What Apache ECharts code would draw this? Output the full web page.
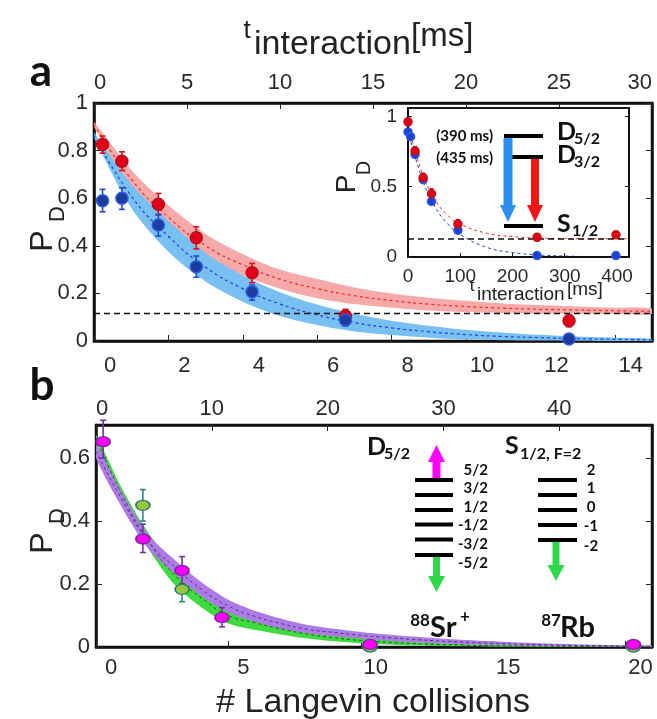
<!DOCTYPE html>
<html>
<head>
<meta charset="utf-8">
<title>P_D decay vs Langevin collisions</title>
<script src="https://cdn.jsdelivr.net/npm/echarts@6/dist/echarts.min.js"></script>
<style>
  html, body { margin: 0; padding: 0; background: #fff; }
  #main { width: 657px; height: 719px; }
</style>
</head>
<body>
<div id="main"></div>
<script>
// ---- panel a: P_D vs # collisions (bottom) / t_interaction ms (top)
var aX      = [0.23, 0.75, 1.73, 2.75, 4.25, 6.76, 12.77];
var aRedY   = [0.826, 0.755, 0.575, 0.434, 0.287, 0.105, 0.085];
var aRedLo  = [0.789, 0.716, 0.530, 0.387, 0.245, 0.077, 0.060];
var aRedHi  = [0.861, 0.795, 0.620, 0.480, 0.326, 0.133, 0.110];
var aBlueY  = [0.589, 0.600, 0.487, 0.312, 0.207, 0.088, 0.008];
var aBlueLo = [0.543, 0.553, 0.441, 0.268, 0.172, 0.063, 0.000];
var aBlueHi = [0.637, 0.644, 0.532, 0.357, 0.235, 0.109, 0.016];
var aPlateau = 0.116;

// fit bands (collision units 0..15)
var aFitX    = [0, 1, 2, 3, 4, 5, 6, 7, 8, 9, 10, 11, 12, 13, 14, 15];
var aRedFit  = [0.91, 0.68, 0.52, 0.40, 0.32, 0.26, 0.22, 0.19, 0.17, 0.155, 0.145, 0.138, 0.133, 0.13, 0.127, 0.125];
var aRedUp   = [0.92, 0.72, 0.57, 0.45, 0.365, 0.30, 0.26, 0.225, 0.20, 0.182, 0.169, 0.158, 0.151, 0.145, 0.14, 0.137];
var aRedDn   = [0.90, 0.64, 0.47, 0.35, 0.275, 0.22, 0.18, 0.155, 0.14, 0.128, 0.121, 0.118, 0.115, 0.115, 0.114, 0.113];
var aBlueFit = [0.865, 0.61, 0.44, 0.31, 0.22, 0.155, 0.11, 0.077, 0.055, 0.039, 0.027, 0.019, 0.014, 0.010, 0.007, 0.005];
var aBlueUp  = [0.875, 0.66, 0.505, 0.37, 0.275, 0.205, 0.153, 0.114, 0.085, 0.064, 0.047, 0.035, 0.026, 0.019, 0.014, 0.010];
var aBlueDn  = [0.855, 0.56, 0.375, 0.25, 0.165, 0.105, 0.067, 0.040, 0.025, 0.014, 0.007, 0.003, 0.002, 0.001, 0.000, 0.000];

// ---- inset: P_D vs t_interaction (ms)
var inRedX  = [0, 13.5, 29, 45, 95.5, 247, 398];
var inRedY  = [0.962, 0.754, 0.565, 0.45, 0.234, 0.14, 0.158];
var inRedLo = [0.935, 0.725, 0.535, 0.415, 0.205, 0.125, 0.14];
var inRedHi = [0.985, 0.785, 0.595, 0.485, 0.265, 0.155, 0.175];
var inBlueX = [0, 5, 13.5, 29, 45, 95.5, 247, 398];
var inBlueY = [0.89, 0.856, 0.73, 0.55, 0.395, 0.19, 0.01, 0.01];
var inPlateau = 0.128;
var inFitX    = [0, 25, 50, 75, 100, 150, 200, 250, 300, 350, 400, 423];
var inRedFit  = [0.95, 0.62, 0.42, 0.30, 0.235, 0.17, 0.145, 0.135, 0.132, 0.13, 0.13, 0.13];
var inRedUp   = [0.96, 0.64, 0.445, 0.325, 0.255, 0.19, 0.16, 0.148, 0.142, 0.14, 0.139, 0.139];
var inRedDn   = [0.94, 0.60, 0.40, 0.28, 0.215, 0.152, 0.132, 0.124, 0.122, 0.121, 0.121, 0.121];
var inBlueFit = [0.90, 0.58, 0.37, 0.24, 0.16, 0.07, 0.032, 0.015, 0.007, 0.003, 0.002, 0.001];
var inBlueUp  = [0.91, 0.60, 0.395, 0.265, 0.183, 0.09, 0.046, 0.024, 0.013, 0.007, 0.005, 0.004];
var inBlueDn  = [0.89, 0.56, 0.345, 0.215, 0.138, 0.052, 0.02, 0.007, 0.002, 0, 0, 0];

// ---- panel b: P_D vs # Langevin collisions
var bMagX  = [0.27, 1.77, 3.25, 4.76, 10.35, 20.3];
var bMagY  = [0.652, 0.343, 0.243, 0.094, 0.008, 0.008];
var bMagLo = [0.60, 0.30, 0.20, 0.064, 0.0, 0.0];
var bMagHi = [0.72, 0.39, 0.287, 0.125, 0.014, 0.014];
var bGrnX  = [1.77, 3.25, 10.35, 20.3];
var bGrnY  = [0.45, 0.183, 0.0, 0.0];
var bGrnLo = [0.40, 0.144, 0.0, 0.0];
var bGrnHi = [0.50, 0.20, 0.006, 0.006];
var bFitX   = [0, 1, 2, 3, 4, 5, 6, 7, 8, 9, 10, 11, 12, 13, 14, 15, 16, 17, 18, 19, 20, 21];
var bGrnUp  = [0.675, 0.50, 0.36, 0.255, 0.185, 0.13, 0.10, 0.075, 0.055, 0.04, 0.03, 0.022, 0.016, 0.012, 0.009, 0.007, 0.005, 0.004, 0.003, 0.002, 0.002, 0.001];
var bGrnDn  = [0.655, 0.46, 0.31, 0.195, 0.125, 0.075, 0.055, 0.04, 0.027, 0.018, 0.012, 0.008, 0.005, 0.003, 0.002, 0.001, 0.001, 0, 0, 0, 0, 0];
var bGrnFit = [0.665, 0.48, 0.335, 0.225, 0.155, 0.10, 0.077, 0.057, 0.041, 0.029, 0.021, 0.015, 0.011, 0.008, 0.006, 0.004, 0.003, 0.002, 0.0015, 0.001, 0.001, 0.0005];
var bPurUp  = [0.645, 0.49, 0.355, 0.275, 0.205, 0.15, 0.115, 0.09, 0.07, 0.058, 0.048, 0.04, 0.033, 0.027, 0.022, 0.018, 0.014, 0.011, 0.009, 0.007, 0.005, 0.004];
var bPurDn  = [0.60, 0.44, 0.31, 0.23, 0.16, 0.11, 0.08, 0.058, 0.043, 0.034, 0.027, 0.02, 0.015, 0.011, 0.008, 0.006, 0.004, 0.003, 0.002, 0.001, 0.001, 0];
var bPurFit = [0.622, 0.465, 0.332, 0.252, 0.182, 0.13, 0.097, 0.074, 0.056, 0.046, 0.037, 0.03, 0.024, 0.019, 0.015, 0.012, 0.009, 0.007, 0.0055, 0.004, 0.003, 0.002];

var FONT = "'Liberation Sans', Arial, sans-serif";
var BOLD = "Lato, 'Open Sans', sans-serif";
var LABEL = '#2a2a2a';

function pairs(xs, ys) { return xs.map(function (x, i) { return [x, ys[i]]; }); }

// shaded confidence band: one closed polygon through the upper and lower edges
function band(xs, lo, hi, color, xi, yi) {
  return {
    type: 'custom', xAxisIndex: xi, yAxisIndex: yi, z: 2, silent: true,
    data: xs.map(function (x, i) { return [x, lo[i], hi[i]]; }),
    encode: { x: 0, y: [1, 2] },
    renderItem: function (params, api) {
      if (params.dataIndex !== 0) return;
      var up = [], dn = [];
      for (var i = 0; i < xs.length; i++) {
        up.push(api.coord([xs[i], hi[i]]));
        dn.unshift(api.coord([xs[i], lo[i]]));
      }
      var cs = params.coordSys;
      return {
        type: 'polygon', shape: { points: up.concat(dn), smooth: 0.3 }, style: { fill: color },
        clipPath: { type: 'rect', shape: { x: cs.x, y: cs.y, width: cs.width, height: cs.height } }
      };
    }
  };
}

function fitLine(xs, ys, color, xi, yi, w) {
  return { type: 'line', xAxisIndex: xi, yAxisIndex: yi, data: pairs(xs, ys), smooth: true,
    symbol: 'none', lineStyle: { color: color, width: w || 1.2, type: [3, 3] }, silent: true, z: 3 };
}

function errBars(xs, lo, hi, color, xi, yi, cap) {
  return {
    type: 'custom', xAxisIndex: xi, yAxisIndex: yi, z: 4, silent: true,
    data: xs.map(function (x, i) { return [x, lo[i], hi[i]]; }),
    encode: { x: 0, y: [1, 2] },
    renderItem: function (params, api) {
      var a = api.coord([api.value(0), api.value(1)]);
      var b = api.coord([api.value(0), api.value(2)]);
      var st = { stroke: color, lineWidth: 1.6 };
      return { type: 'group', children: [
        { type: 'line', shape: { x1: a[0], y1: a[1], x2: b[0], y2: b[1] }, style: st },
        { type: 'line', shape: { x1: a[0] - cap, y1: a[1], x2: a[0] + cap, y2: a[1] }, style: st },
        { type: 'line', shape: { x1: b[0] - cap, y1: b[1], x2: b[0] + cap, y2: b[1] }, style: st }
      ] };
    }
  };
}

function dots(xs, ys, fill, border, size, xi, yi) {
  return { type: 'scatter', xAxisIndex: xi, yAxisIndex: yi, data: pairs(xs, ys), symbol: 'circle',
    symbolSize: size, clip: false, z: 5, silent: true,
    itemStyle: { color: fill, borderColor: border, borderWidth: 1.5, opacity: 1 } };
}

function hline(v, xmin, xmax, xi, yi) {
  return { type: 'line', xAxisIndex: xi, yAxisIndex: yi, data: [[xmin, v], [xmax, v]], symbol: 'none',
    lineStyle: { color: '#111', width: 1.5, type: [6, 4] }, silent: true, z: 3 };
}

function axisBase(extra) {
  var o = {
    type: 'value', splitLine: { show: false },
    axisLine: { show: true, onZero: false, lineStyle: { color: '#111', width: 2.5 } },
    axisTick: { show: true, inside: true, length: 6, lineStyle: { color: '#222', width: 1 } },
    axisLabel: { color: LABEL, fontFamily: FONT, fontSize: 22 }
  };
  for (var k in extra) {
    if (typeof extra[k] === 'object' && !Array.isArray(extra[k]) && o[k]) {
      for (var j in extra[k]) o[k][j] = extra[k][j];
    } else o[k] = extra[k];
  }
  return o;
}

function t(str, x, y, size, opts) {
  opts = opts || {};
  return { type: 'text', x: x, y: y, rotation: opts.rot || 0, z: 100,
    style: { text: str, fontSize: size, fontFamily: opts.bold ? BOLD : FONT,
      fontWeight: opts.bold ? 'bold' : 'normal', fill: opts.fill || '#222',
      align: opts.align || 'center', verticalAlign: 'middle' } };
}
function bar(x1, x2, y, w) {
  return { type: 'line', z: 100, shape: { x1: x1, y1: y, x2: x2, y2: y }, style: { stroke: '#000', lineWidth: w || 4 } };
}
function arrow(cx, y0, y1, shaftW, headW, headL, color) {
  // y0: tail, y1: tip
  var dir = y1 > y0 ? 1 : -1;
  var yh = y1 - dir * headL;
  return [
    { type: 'rect', z: 100, shape: { x: cx - shaftW / 2, y: Math.min(y0, yh), width: shaftW, height: Math.abs(yh - y0) }, style: { fill: color } },
    { type: 'polygon', z: 100, shape: { points: [[cx - headW / 2, yh], [cx + headW / 2, yh], [cx, y1]] }, style: { fill: color } }
  ];
}

var K = '#111';
var graphics = [
  // title and panel letters
  t('t', 247, 31, 26), t('interaction', 254, 45, 34, { align: 'left' }), t('[ms]', 411, 37, 33, { align: 'left' }),
  t('a', 41, 72, 44, { bold: true, fill: K }),
  t('b', 42, 386, 44, { bold: true, fill: K }),
  // y titles
  t('P', 43, 241, 32, { rot: Math.PI / 2 }), t('D', 58, 214, 22, { rot: Math.PI / 2 }),
  t('P', 43, 543, 32, { rot: Math.PI / 2 }), t('D', 58, 516, 22, { rot: Math.PI / 2 }),
  t('P', 347, 184, 28, { rot: Math.PI / 2 }), t('D', 364, 168, 20, { rot: Math.PI / 2 }),
  // inset x title
  t('t', 472, 286, 17), t('interaction', 477, 295, 19, { align: 'left' }), t('[ms]', 567, 290, 19, { align: 'left' }),
  // x title b
  t('# Langevin collisions', 373, 703, 34),
  // inset level scheme
  bar(504, 543, 136), bar(504, 543, 157), bar(504, 543, 226),
  t('(390 ms)', 493, 136, 15, { bold: true, align: 'right', fill: K }),
  t('(435 ms)', 493, 158, 15, { bold: true, align: 'right', fill: K }),
  t('D', 557, 132, 25, { bold: true, align: 'left', fill: K }), t('5/2', 574, 139, 16, { bold: true, align: 'left', fill: K }),
  t('D', 557, 155, 25, { bold: true, align: 'left', fill: K }), t('3/2', 574, 162, 16, { bold: true, align: 'left', fill: K }),
  t('S', 557, 224, 25, { bold: true, align: 'left', fill: K }), t('1/2', 572, 231, 16, { bold: true, align: 'left', fill: K }),
  // panel b level scheme
  t('D', 367, 447, 25, { bold: true, align: 'left', fill: K }), t('5/2', 384, 454, 16, { bold: true, align: 'left', fill: K }),
  t('S', 505, 446, 25, { bold: true, align: 'left', fill: K }), t('1/2, F=2', 520, 454, 16, { bold: true, align: 'left', fill: K }),
  bar(415, 453, 480), bar(415, 453, 495), bar(415, 453, 510), bar(415, 453, 524.5), bar(415, 453, 539.5), bar(415, 453, 555),
  bar(538, 577, 480), bar(538, 577, 495), bar(538, 577, 510), bar(538, 577, 525), bar(538, 577, 540),
  t('5/2', 488, 470, 15, { bold: true, align: 'right', fill: K }),
  t('3/2', 488, 488, 15, { bold: true, align: 'right', fill: K }),
  t('1/2', 488, 507, 15, { bold: true, align: 'right', fill: K }),
  t('-1/2', 488, 525, 15, { bold: true, align: 'right', fill: K }),
  t('-3/2', 488, 544, 15, { bold: true, align: 'right', fill: K }),
  t('-5/2', 488, 563, 15, { bold: true, align: 'right', fill: K }),
  t('2', 591, 470, 15, { bold: true, fill: K }),
  t('1', 591, 488, 15, { bold: true, fill: K }),
  t('0', 591, 507, 15, { bold: true, fill: K }),
  t('-1', 591, 526, 15, { bold: true, fill: K }),
  t('-2', 591, 546, 15, { bold: true, fill: K }),
  t('88', 420, 621, 17, { bold: true, fill: K }), t('Sr', 430, 628, 29, { bold: true, align: 'left', fill: K }),
  t('+', 465, 617, 17, { bold: true, fill: K }),
  t('87', 551, 621, 17, { bold: true, fill: K }), t('Rb', 560, 628, 29, { bold: true, align: 'left', fill: K })
]
  .concat(arrow(508, 138, 222, 9, 16, 17, '#2a8ff0'))
  .concat(arrow(535, 159, 222, 8, 16, 17, '#f41414'))
  .concat(arrow(436.5, 478, 445, 8, 17, 17, '#ff00ff'))
  .concat(arrow(436.5, 557, 592, 7, 17, 16, '#2fd84a'))
  .concat(arrow(556, 542, 581, 7, 17, 16, '#2fd84a'));

var series = [
  band(aFitX, aRedDn, aRedUp, '#f6a9a9', 0, 0),
  band(aFitX, aBlueDn, aBlueUp, '#79c0f2', 0, 0),
  fitLine(aFitX, aRedFit, '#f02828', 0, 0),
  fitLine(aFitX, aBlueFit, '#1f3fe0', 0, 0),
  hline(aPlateau, 0, 15, 0, 0),
  errBars(aX, aRedLo, aRedHi, '#e0101a', 0, 0, 3),
  errBars(aX, aBlueLo, aBlueHi, '#2048d8', 0, 0, 3),
  dots(aX, aRedY, '#e5001a', '#b0101a', 12, 0, 0),
  dots(aX, aBlueY, '#1d3c9c', '#2f5be0', 12, 0, 0),

  band(inFitX, inRedDn, inRedUp, '#f8b4b4', 2, 2),
  band(inFitX, inBlueDn, inBlueUp, '#8ccaf4', 2, 2),
  fitLine(inFitX, inRedFit, '#f02828', 2, 2, 1),
  fitLine(inFitX, inBlueFit, '#1f3fe0', 2, 2, 1),
  hline(inPlateau, 0, 423, 2, 2),
  errBars(inRedX, inRedLo, inRedHi, '#e0101a', 2, 2, 2),
  dots(inBlueX, inBlueY, '#1f3fd0', '#2f5be0', 8, 2, 2),
  dots(inRedX, inRedY, '#e5001a', '#c0101a', 8, 2, 2),

  band(bFitX, bGrnDn, bGrnUp, '#3ddb3d', 3, 4),
  band(bFitX, bPurDn, bPurUp, '#ad7ae6', 3, 4),
  fitLine(bFitX, bGrnFit, '#2d5a2d', 3, 4, 1),
  fitLine(bFitX, bPurFit, '#4a3a7a', 3, 4, 1),
  errBars(bGrnX, bGrnLo, bGrnHi, '#2a8a80', 3, 4, 3),
  errBars(bMagX, bMagLo, bMagHi, '#7030a0', 3, 4, 3),
  dots(bGrnX, bGrnY, '#96c83c', '#2a7a70', [14, 10], 3, 4),
  dots(bMagX, bMagY, '#ff00ff', '#7a2a9a', [14, 10], 3, 4)
];

var option = {
  animation: false,
  backgroundColor: '#fff',
  textStyle: { fontFamily: FONT },
  grid: [
    { left: 94, top: 103, width: 558, height: 238, show: true, borderColor: '#111', borderWidth: 2.5,
      backgroundColor: '#fff', z: 0, outerBoundsMode: 'none', containLabel: false },
    { left: 408, top: 108, width: 221, height: 149, show: true, borderColor: '#111', borderWidth: 2,
      backgroundColor: '#fff', z: 3, outerBoundsMode: 'none', containLabel: false },
    { left: 96, top: 425, width: 556, height: 222, show: true, borderColor: '#111', borderWidth: 2.5,
      backgroundColor: '#fff', z: 0, outerBoundsMode: 'none', containLabel: false }
  ],
  xAxis: [
    axisBase({ gridIndex: 0, position: 'bottom', min: 0, max: 15, interval: 2,
      axisLabel: { margin: 14, padding: [0, 0, 0, 32], showMaxLabel: false } }),
    axisBase({ gridIndex: 0, position: 'top', min: 0, max: 30, interval: 5,
      axisLabel: { margin: 9, alignMinLabel: 'left', alignMaxLabel: 'right' } }),
    axisBase({ gridIndex: 1, position: 'bottom', min: 0, max: 423, interval: 100, z: 4,
      axisLine: { lineStyle: { color: '#111', width: 2 } },
      axisTick: { length: 4 }, axisLabel: { fontSize: 19, margin: 10, showMaxLabel: false } }),
    axisBase({ gridIndex: 2, position: 'bottom', min: 0, max: 21, interval: 5,
      axisLabel: { margin: 10, padding: [0, 0, 0, 30], showMaxLabel: false } }),
    axisBase({ gridIndex: 2, position: 'top', min: 0, max: 48, interval: 10,
      axisLabel: { margin: 5, showMaxLabel: false, alignMinLabel: 'left' } })
  ],
  yAxis: [
    axisBase({ gridIndex: 0, position: 'left', min: 0, max: 1, interval: 0.2,
      axisLabel: { margin: 6, padding: [22, 0, 0, 0] } }),
    axisBase({ gridIndex: 0, position: 'right', min: 0, max: 1, interval: 0.2, axisLabel: { show: false } }),
    axisBase({ gridIndex: 1, position: 'left', min: 0, max: 1.06, interval: 0.5, z: 4,
      axisLine: { lineStyle: { color: '#111', width: 2 } },
      axisTick: { length: 4 }, axisLabel: { fontSize: 19, margin: 11, showMaxLabel: false } }),
    axisBase({ gridIndex: 1, position: 'right', min: 0, max: 1.06, interval: 0.5, z: 4,
      axisLine: { lineStyle: { color: '#111', width: 2 } }, axisTick: { length: 4 }, axisLabel: { show: false } }),
    axisBase({ gridIndex: 2, position: 'left', min: 0, max: 0.705, interval: 0.2,
      axisLabel: { margin: 6, padding: [8, 0, 0, 0], showMaxLabel: false } }),
    axisBase({ gridIndex: 2, position: 'right', min: 0, max: 0.705, interval: 0.2, axisLabel: { show: false } })
  ],
  series: series,
  graphic: { elements: graphics }
};

var chart = echarts.init(document.getElementById('main'));
chart.setOption(option);
</script>
</body>
</html>
